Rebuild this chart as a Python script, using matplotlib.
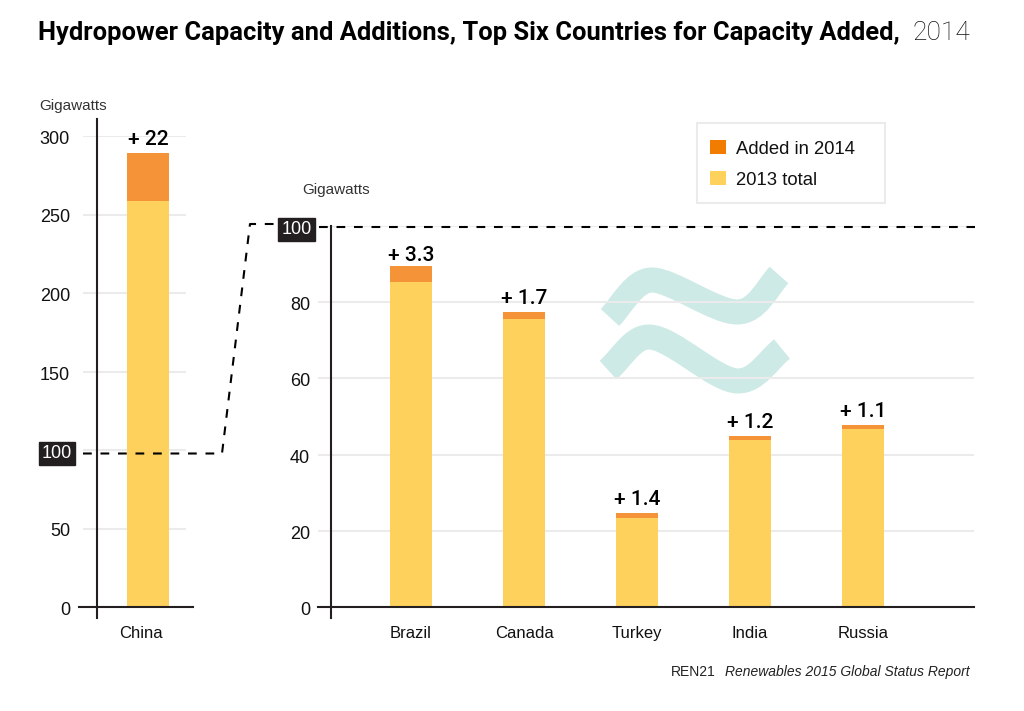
import matplotlib
matplotlib.use("Agg")
import matplotlib.pyplot as plt
from matplotlib.patches import Patch, PathPatch, Rectangle
from matplotlib.path import Path
from matplotlib.transforms import ScaledTranslation

W, H = 1024, 711
BODY = "Liberation Sans"
INK = "#231f20"
GRID = "#ebebeb"
BAR_TOTAL = "#fed05c"
BAR_ADD = "#f59338"
LEG_ADD = "#f27c00"

# data
china = ["China"]
china_total = [258.5]
china_added = [30.5]
china_labels = ["+ 22"]
china_ticks = [0, 50, 100, 150, 200, 250, 300]

others = ["Brazil", "Canada", "Turkey", "India", "Russia"]
others_total = [85.3, 75.5, 23.4, 43.8, 46.7]
others_added = [4.2, 1.9, 1.3, 1.1, 1.1]
others_labels = ["+ 3.3", "+ 1.7", "+ 1.4", "+ 1.2", "+ 1.1"]
others_ticks = [0, 20, 40, 60, 80, 100]

fig = plt.figure(figsize=(W / 100, H / 100), dpi=100, facecolor="white")


def rect(x0, x1, ytop, ybot):
    return [x0 / W, 1 - ybot / H, (x1 - x0) / W, (ybot - ytop) / H]


def style(ax, ticks, spine_x, low, high, grid_from, grid_to, ymax):
    ax.set_ylim(0, ymax)
    ax.patch.set_visible(False)
    for s in ("top", "right"):
        ax.spines[s].set_visible(False)
    ax.spines["left"].set_position(("data", spine_x))
    ax.spines["left"].set_bounds(low, high)
    for s in ("left", "bottom"):
        ax.spines[s].set_color(INK)
        ax.spines[s].set_linewidth(1.5)
    ax.set_yticks(ticks)
    ax.tick_params(axis="both", length=0)
    ax.hlines([t for t in ticks if t != 0], grid_from, grid_to,
              transform=ax.get_yaxis_transform(), color=GRID, lw=1.5, zorder=1)


def ylabels(ax, ticks, pad):
    ax.set_yticklabels([str(t) for t in ticks], fontsize=13, family=BODY, color="#111111")
    ax.tick_params(axis="y", pad=pad)
    for t, lab in zip(ticks, ax.get_yticklabels()):
        dx = 0
        if t == 100:
            dx = 2
            lab.set_color("white")
            lab.set_bbox(dict(facecolor=INK, edgecolor=INK, boxstyle="square,pad=0.18"))
        lab.set_transform(lab.get_transform() + ScaledTranslation(dx / 100, -1.5 / 100, fig.dpi_scale_trans))


# left axes
axL = fig.add_axes(rect(79, 193, 136, 607), zorder=2)
axL.set_xlim(-0.605, 0.395)
style(axL, china_ticks, -0.447, -7, 311, 4 / 114, 107 / 114, 300)
axL.bar([0], china_total, width=0.368, color=BAR_TOTAL, zorder=2)
axL.bar([0], china_added, bottom=china_total, width=0.368, color=BAR_ADD, zorder=2)
ylabels(axL, china_ticks, 19.4)
axL.set_xticks([0], china, fontsize=12, family=BODY, color="#111111")
axL.tick_params(axis="x", pad=14)
for lab in axL.get_xticklabels():
    lab.set_transform(lab.get_transform() + ScaledTranslation(-7 / 100, 0, fig.dpi_scale_trans))
for x, t, a, s in zip([0], china_total, china_added, china_labels):
    axL.annotate(s, (x, t + a), xytext=(0, 3), textcoords="offset points", ha="center", va="bottom",
                 fontsize=15, family="Roboto", weight="medium", color="black", zorder=6)

# right axes
axR = fig.add_axes(rect(318, 974, 226, 607), zorder=2)
axR.set_xlim(-0.823, 4.982)
style(axR, others_ticks, -0.704, -2.9, 100, 0, 1, 100)
xs = list(range(len(others)))
axR.bar(xs, others_total, width=0.372, color=BAR_TOTAL, zorder=2)
axR.bar(xs, others_added, bottom=others_total, width=0.372, color=BAR_ADD, zorder=2)
ylabels(axR, others_ticks, 15.5)
axR.set_xticks(xs, others, fontsize=12, family=BODY, color="#111111")
axR.tick_params(axis="x", pad=14)
for i, (x, t, a, s) in enumerate(zip(xs, others_total, others_added, others_labels)):
    axR.annotate(s, (x, t + a), xytext=(0, 1 if i == 0 else 3), textcoords="offset points",
                 ha="center", va="bottom", fontsize=15, family="Roboto", weight="medium",
                 color="black", zorder=6)

# overlay in pixel coordinates
ov = fig.add_axes([0, 0, 1, 1], zorder=5)
ov.set_xlim(0, W)
ov.set_ylim(H, 0)
ov.axis("off")
ov.patch.set_visible(False)

# wave sign behind the gridlines
tilde_ctrl = [
    [(610, 317.5), (622, 305), (634, 280), (652, 280), (672, 280), (715, 312), (737, 312), (757, 312), (767, 288), (779, 275)],
    [(608, 370), (622, 358), (632, 337), (649, 337), (672, 337), (715, 381), (738, 381), (757, 381), (768, 360), (782, 349)],
]
for pts in tilde_ctrl:
    codes = [Path.MOVETO] + [Path.CURVE4] * 9
    axR.add_patch(PathPatch(Path(pts, codes), fill=False, edgecolor="#cdeae6", lw=18, capstyle="butt",
                            transform=ov.transData, clip_on=False, zorder=0.5))

# dashed break connector
dash = dict(color="black", lw=1.5, dashes=(4.2, 4.2), solid_capstyle="butt")
ov.plot([83, 222, 250, 276], [453.5, 453.5, 224, 224], **dash)
ov.plot([319, 975], [226.5, 226.5], **dash)

# titles and unit labels
ov.text(38, 33, "Hydropower Capacity and Additions, Top Six Countries for Capacity Added,",
        fontsize=18.4, family="Roboto", weight="bold", color="black", va="center", ha="left")
ov.text(913, 33, "2014", fontsize=19, family="Roboto", weight="light", color="#111111", va="center", ha="left")
ov.text(39, 106, "Gigawatts", fontsize=11, family=BODY, color="#333333", va="center")
ov.text(302, 190, "Gigawatts", fontsize=11, family=BODY, color="#333333", va="center")
ov.text(671, 672, "REN21", fontsize=10, family=BODY, color="#222222", va="center")
ov.text(970, 672, "Renewables 2015 Global Status Report", fontsize=10, family=BODY, style="italic",
        color="#222222", va="center", ha="right")

# legend
ov.add_patch(Rectangle((697, 123), 188, 80, facecolor="white", edgecolor=GRID, lw=1.5))
handles = [Patch(facecolor=LEG_ADD, edgecolor="none"), Patch(facecolor=BAR_TOTAL, edgecolor="none")]
leg = ov.legend(handles, ["Added in 2014", "2013 total"], loc="upper left",
                bbox_to_anchor=(697 / W, 1 - 127 / H), bbox_transform=fig.transFigure,
                prop=dict(family=BODY, size=13.3), frameon=False,
                borderaxespad=0, borderpad=0.72, handlelength=0.85, handleheight=0.8,
                handletextpad=0.55, labelspacing=0.72)
for t in leg.get_texts():
    t.set_color("#111111")

fig.savefig("out.png", dpi=100)
